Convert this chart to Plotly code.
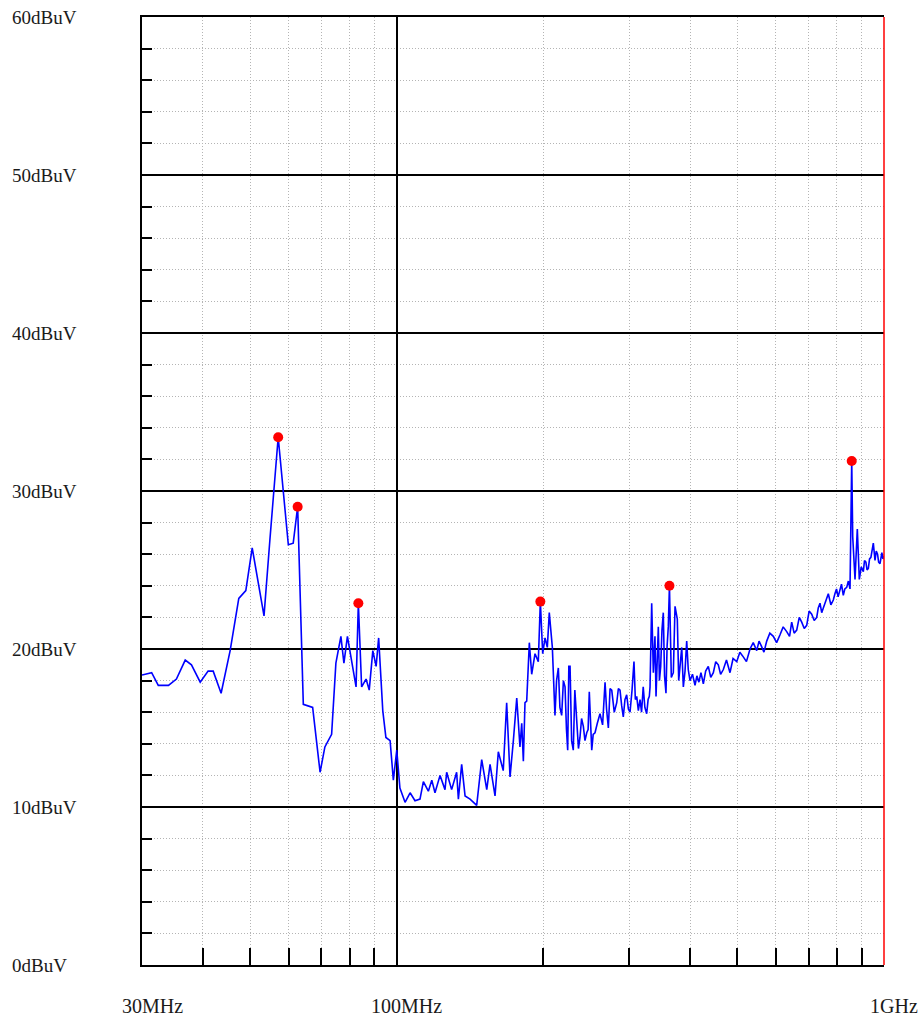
import math
import plotly.graph_objects as go

# ---- data (frequency in MHz, level in dBuV) ----
freq_mhz = [
    30.0, 31.4, 32.4, 34.0, 35.3, 36.8, 37.9, 39.5, 41.0, 42.0, 43.6, 45.5, 47.4, 49.0,
    50.5, 53.4, 54.9, 57.1, 59.9, 61.3, 62.6, 64.3, 67.2, 69.6, 71.2, 73.5, 75.0, 76.8,
    77.9, 79.2, 82.5, 83.4, 84.7, 86.5, 87.8, 89.3, 90.7, 91.8, 93.6, 95.0, 96.9, 98.4,
    100.0, 101.5,
    104.0, 106.5, 109.0, 111.6, 113.4, 116.1, 118.0, 119.8, 122.7, 125.6, 126.6, 129.6,
    132.7, 133.8, 135.9, 138.1, 141.4, 145.9, 149.4, 153.0, 155.4, 159.1, 161.6, 165.4,
    168.1, 170.8, 173.5, 176.3, 179.0, 180.5, 181.9, 183.3, 184.8, 187.1, 189.2, 192.2,
    195.2, 197.1, 199.3, 201.5, 203.7, 205.6, 208.6, 210.0, 211.2, 212.8, 214.6, 216.2,
    218.0, 219.8, 221.5, 223.0, 224.3, 225.5, 226.8, 228.5, 230.3, 232.0, 234.1, 236.0,
    237.7, 239.5, 241.5, 243.4, 245.4, 247.0, 248.4, 250.0, 251.3, 253.0, 255.2, 258.0,
    261.3, 264.5, 267.6, 269.5, 271.8, 274.0, 276.2, 279.5, 282.8, 285.0, 287.2, 289.5,
    291.7, 294.0, 296.4, 298.8,
    301.1, 304.0, 306.8, 308.8, 310.8, 313.2, 315.7, 318.0, 320.5, 323.0, 325.8, 328.0,
    329.9, 331.0, 333.6, 336.2, 338.8, 340.5, 342.5, 344.2, 346.0, 348.1, 350.2, 352.4,
    354.5, 356.9, 358.8, 360.8, 362.8, 366.0, 369.5, 372.5, 376.5, 379.0, 381.4, 384.5,
    387.4, 390.5, 393.6, 396.5, 399.8, 404.5, 409.4,
    413.0, 417.0, 421.0, 425.8, 430.5, 435.9, 441.0, 446.4, 451.5, 457.0, 462.0, 468.0,
    475.0, 483.0, 490.0, 498.6, 506.0, 514.3, 522.0, 530.9, 539.0, 548.0, 554.0, 560.0,
    567.0, 574.5, 583.0, 592.7, 602.0, 611.8, 621.0, 631.4, 640.0, 646.5, 654.0, 662.0,
    670.0, 677.8, 686.0, 694.0, 702.0, 710.6, 719.0, 727.6, 733.0, 739.0, 745.0, 750.7,
    759.0, 768.6, 778.0, 787.0, 793.0, 799.0, 805.0, 812.3, 818.0, 825.0, 831.0, 838.5,
    845.0, 851.6, 858.5, 862.6, 872.0, 881.5, 889.9, 898.0, 906.9, 912.0, 918.0, 923.0,
    928.6, 934.0, 940.0, 950.8, 958.4, 964.0, 970.0, 975.0, 981.4, 990.0, 995.0, 1000.0,
]
level_dbuv = [
    18.35, 18.5, 17.7, 17.7, 18.1, 19.3, 19.0, 17.9, 18.6, 18.6, 17.2, 19.9, 23.2, 23.7,
    26.4, 22.1, 26.9, 33.4, 26.6, 26.7, 29.0, 16.5, 16.3, 12.2, 13.8, 14.6, 19.1, 20.8,
    19.1, 20.8, 17.6, 22.9, 17.6, 18.1, 17.4, 19.9, 18.9, 20.7, 16.1, 14.4, 14.2, 11.7,
    13.6, 11.2,
    10.3, 10.9, 10.4, 10.5, 11.6, 11.0, 11.7, 10.9, 12.0, 11.1, 12.2, 11.1,
    12.2, 10.5, 12.7, 10.7, 10.5, 10.1, 13.0, 11.1, 12.7, 10.7, 13.5, 12.3,
    16.6, 11.9, 14.2, 16.9, 13.8, 15.3, 12.9, 16.6, 16.7, 20.4, 18.4, 19.7,
    19.2, 23.0, 19.7, 20.7, 20.1, 22.3, 20.1, 17.2, 15.8, 18.0, 18.8, 16.3,
    15.8, 18.0, 17.6, 14.9, 13.6, 18.9, 18.9, 14.2, 13.6, 17.4, 15.5, 13.7,
    14.4, 15.6, 15.1, 14.2, 14.7, 14.9, 17.3, 15.0, 13.6, 14.6, 14.7, 15.3,
    15.9, 15.2, 17.9, 16.2, 15.0, 17.5, 17.4, 16.0, 16.6, 17.5, 17.4, 16.4,
    15.7, 16.8, 17.1, 16.2,
    16.0, 17.4, 19.2, 16.8, 17.0, 16.1, 16.8, 16.0, 17.6, 16.3, 15.9, 16.8,
    17.0, 17.6, 22.9, 18.5, 20.8, 17.0, 19.6, 21.4, 18.0, 18.9, 21.2, 22.3,
    18.3, 17.2, 20.2, 21.4, 24.0, 18.2, 18.5, 22.7, 21.9, 18.0, 18.9, 20.1,
    17.6, 18.6, 20.5, 18.7, 18.0, 18.4, 17.7,
    18.3, 17.9, 18.5, 17.8, 18.6, 18.9, 18.2, 18.5, 19.2, 19.0, 18.4, 18.7,
    19.3, 18.5, 19.4, 19.2, 19.8, 19.5, 19.2, 20.0, 20.4, 19.9, 20.5, 20.2,
    19.8, 20.5, 21.0, 20.8, 20.4, 20.9, 21.4, 21.1, 20.8, 21.7, 21.0, 21.2,
    22.0, 21.7, 21.3, 21.5, 22.4, 22.2, 21.8, 22.0, 22.6, 22.9, 22.3, 22.6,
    23.0, 23.5, 22.8, 23.1, 23.5, 23.8, 23.3, 23.7, 24.1, 23.4, 23.8, 23.9,
    24.3, 23.8, 31.9, 27.1, 24.4, 27.6, 24.4, 25.2, 24.9, 25.6, 25.5, 25.0,
    25.1, 25.7, 25.8, 26.7, 25.6, 26.2, 26.0, 25.5, 25.4, 26.1, 25.7, 25.9,
]

# peak markers
peak_mhz = [57.1, 62.6, 83.4, 197.1, 362.8, 858.5]
peak_dbuv = [33.4, 29.0, 22.9, 23.0, 24.0, 31.9]

# axis values / labels
y_major = [0, 10, 20, 30, 40, 50, 60]
y_minor = [v for v in range(2, 60, 2) if v % 10 != 0]
y_labels = ["0dBuV", "10dBuV", "20dBuV", "30dBuV", "40dBuV", "50dBuV", "60dBuV"]
x_major = [100]
x_minor = [40, 50, 60, 70, 80, 90, 200, 300, 400, 500, 600, 700, 800, 900]
x_label_vals = [30, 100, 1000]
x_labels = ["30MHz", "100MHz", "1GHz"]

FONT = "Liberation Serif, Times New Roman, serif"

fig = go.Figure()
fig.add_trace(go.Scatter(
    x=freq_mhz, y=level_dbuv, mode="lines",
    line=dict(color="#0000ff", width=1.6),
    hoverinfo="skip",
))
fig.add_trace(go.Scatter(
    x=peak_mhz, y=peak_dbuv, mode="markers",
    marker=dict(color="#ff0000", size=10, line=dict(width=0)),
    hoverinfo="skip",
))

annotations = []
for v, t in zip(y_major, y_labels):
    annotations.append(dict(
        text=t, xref="paper", x=(10 - 142) / 742, xanchor="left",
        yref="y", y=v, yanchor="middle", showarrow=False,
        font=dict(family=FONT, size=19, color="#1a1a1a"),
    ))
for v, t in zip(x_label_vals, x_labels):
    annotations.append(dict(
        text=t, xref="x", x=math.log10(v), xanchor="center", xshift=10,
        yref="paper", y=0, yanchor="middle", yshift=-41, showarrow=False,
        font=dict(family=FONT, size=20, color="#1a1a1a"),
    ))

GRID_DOT = "1px,2px"
fig.update_layout(
    width=921, height=1018,
    margin=dict(l=142, r=37, t=17, b=53),
    paper_bgcolor="white", plot_bgcolor="white",
    showlegend=False,
    annotations=annotations,
    shapes=[dict(type="line", xref="paper", yref="paper", x0=1, x1=1, y0=0, y1=1,
                 line=dict(color="#ff0000", width=1.5), layer="above")],
    xaxis=dict(
        type="log", range=[math.log10(30), 3],
        tickmode="array", tickvals=x_major, showticklabels=False,
        showgrid=True, gridcolor="black", gridwidth=1.5, ticks="",
        showline=True, linecolor="black", linewidth=1.5, mirror=True,
        zeroline=False,
        minor=dict(tickmode="array", tickvals=x_minor, ticks="inside", ticklen=17,
                   tickwidth=1.5, tickcolor="black", showgrid=True,
                   gridcolor="#b4b4b4", gridwidth=1, griddash=GRID_DOT),
    ),
    yaxis=dict(
        range=[0, 60],
        tickmode="array", tickvals=y_major, showticklabels=False,
        showgrid=True, gridcolor="black", gridwidth=1.5, ticks="",
        showline=True, linecolor="black", linewidth=1.5, mirror=False,
        zeroline=False,
        minor=dict(tickmode="array", tickvals=y_minor, ticks="inside", ticklen=10,
                   tickwidth=1.5, tickcolor="black", showgrid=True,
                   gridcolor="#b4b4b4", gridwidth=1, griddash=GRID_DOT),
    ),
)

fig.write_html(
    "out.html",
    config={"displayModeBar": False},
    post_script="document.body.style.margin='0px';document.body.style.overflow='hidden';",
)
